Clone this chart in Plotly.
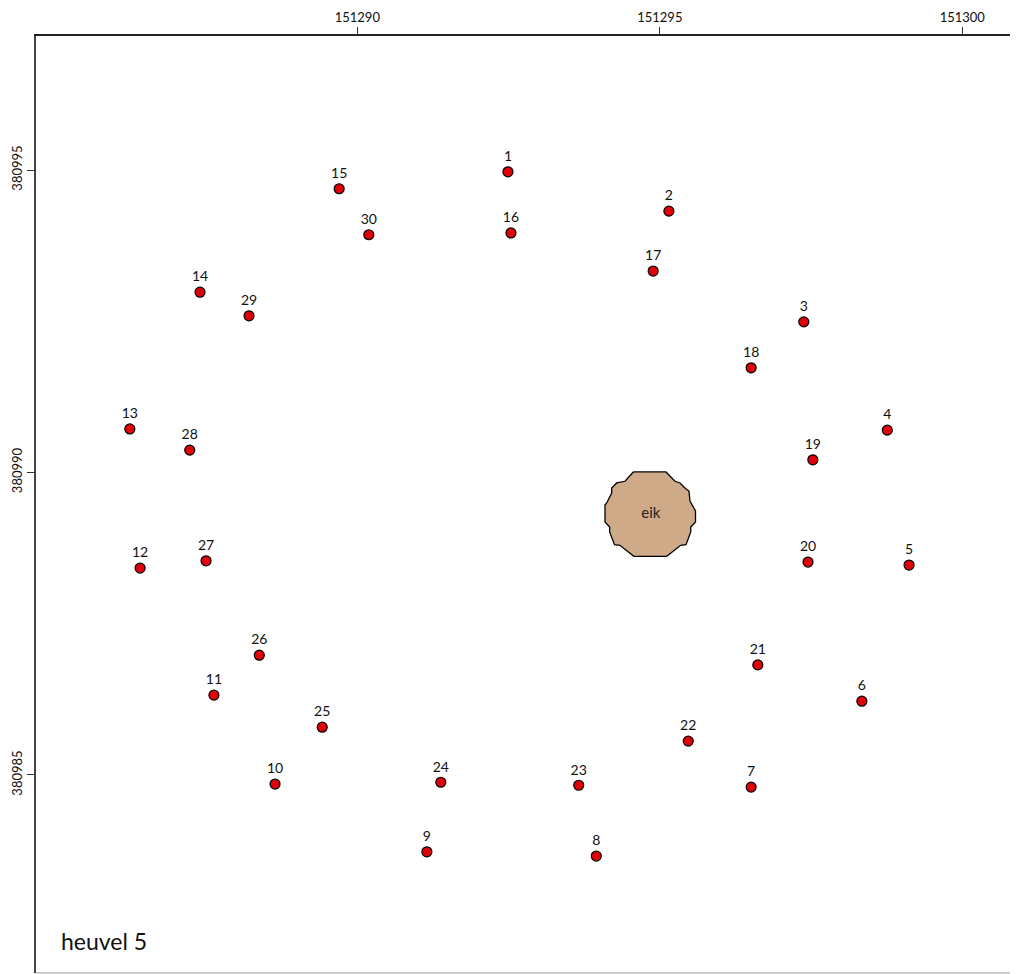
import plotly.graph_objects as go

# survey points (RD coordinates)
point_id = [str(i) for i in range(1, 31)]
point_x = [151292.49, 151295.15, 151297.38, 151298.76, 151299.12, 151298.34, 151296.51,
           151293.95, 151291.15, 151288.64, 151287.63, 151286.41, 151286.24, 151287.40,
           151289.70, 151292.54, 151294.89, 151296.51, 151297.53, 151297.45, 151296.62,
           151295.47, 151293.66, 151291.38, 151289.42, 151288.38, 151287.50, 151287.23,
           151288.21, 151290.19]
point_y = [380994.97, 380994.32, 380992.49, 380990.70, 380988.47, 380986.22, 380984.80,
           380983.66, 380983.73, 380984.85, 380986.32, 380988.42, 380990.72, 380992.98,
           380994.69, 380993.96, 380993.33, 380991.73, 380990.21, 380988.52, 380986.82,
           380985.56, 380984.83, 380984.88, 380985.79, 380986.98, 380988.54, 380990.37,
           380992.59, 380993.93]

# tree (eik) outline: centre + vertex offsets in metres
tree_label = "eik"
tree_cx = 151294.851
tree_cy = 380989.311
tree_dx = [-0.289, 0.251, 0.400, 0.483, 0.565, 0.631, 0.648, 0.739, 0.739, 0.660, 0.660,
           0.582, 0.494, 0.263, -0.280, -0.510, -0.600, -0.680, -0.680, -0.757, -0.757,
           -0.729, -0.646, -0.646, -0.564, -0.426, -0.289]
tree_dy = [0.698, 0.698, 0.544, 0.516, 0.433, 0.383, 0.218, 0.053, -0.129, -0.212, -0.294,
           -0.504, -0.514, -0.696, -0.696, -0.514, -0.504, -0.294, -0.212, -0.129, 0.150,
           0.185, 0.350, 0.433, 0.516, 0.544, 0.698]

x_ticks = [151290, 151295, 151300]
y_ticks = [380985, 380990, 380995]
title = "heuvel 5"

FONT = "Lato, Noto Sans, sans-serif"

tree_x = [tree_cx + d for d in tree_dx]
tree_y = [tree_cy + d for d in tree_dy]

fig = go.Figure()
fig.add_trace(go.Scatter(x=tree_x, y=tree_y, mode="lines", fill="toself",
                         fillcolor="#cfaa88", line=dict(color="black", width=1.3),
                         hoverinfo="skip"))
fig.add_trace(go.Scatter(x=[tree_cx], y=[tree_cy], mode="text", text=[tree_label],
                         textfont=dict(family=FONT, size=15, color="#222")))
fig.add_trace(go.Scatter(x=point_x, y=point_y, mode="markers+text", text=point_id,
                         textposition="top center",
                         textfont=dict(family=FONT, size=14, color="#111"),
                         marker=dict(size=10, color="#e0000a",
                                     line=dict(color="black", width=1.2))))

fig.add_annotation(text=title, xref="paper", yref="paper", x=0.0232, y=0.034,
                   xanchor="left", yanchor="middle", showarrow=False,
                   font=dict(family=FONT, size=23, color="#111"))
# light bottom frame edge
fig.add_shape(type="line", xref="paper", yref="paper", x0=0, x1=1, y0=0, y1=0,
              line=dict(color="#bbbbbb", width=1.5))

fig.update_xaxes(range=[151284.689, 151301.053], side="top", tickvals=x_ticks,
                 ticktext=[str(v) for v in x_ticks], ticks="outside", ticklen=7,
                 tickcolor="#333", showline=True, linecolor="#222", linewidth=1.5,
                 showgrid=False, zeroline=False,
                 tickfont=dict(family=FONT, size=13, color="#111"))
fig.update_yaxes(range=[380981.727, 380997.215], tickvals=y_ticks,
                 ticktext=[str(v) for v in y_ticks], tickangle=-90, ticks="outside",
                 ticklen=7, tickcolor="#333", showline=True, linecolor="#444",
                 linewidth=1.5, showgrid=False, zeroline=False,
                 tickfont=dict(family=FONT, size=13, color="#111"))
# page body adds ~8px offset, so margins are trimmed to land the frame at 36px
fig.update_layout(width=1018, height=974, margin=dict(l=28, r=0, t=28, b=9),
                  plot_bgcolor="white", paper_bgcolor="white", showlegend=False)

fig.write_html("out.html")
